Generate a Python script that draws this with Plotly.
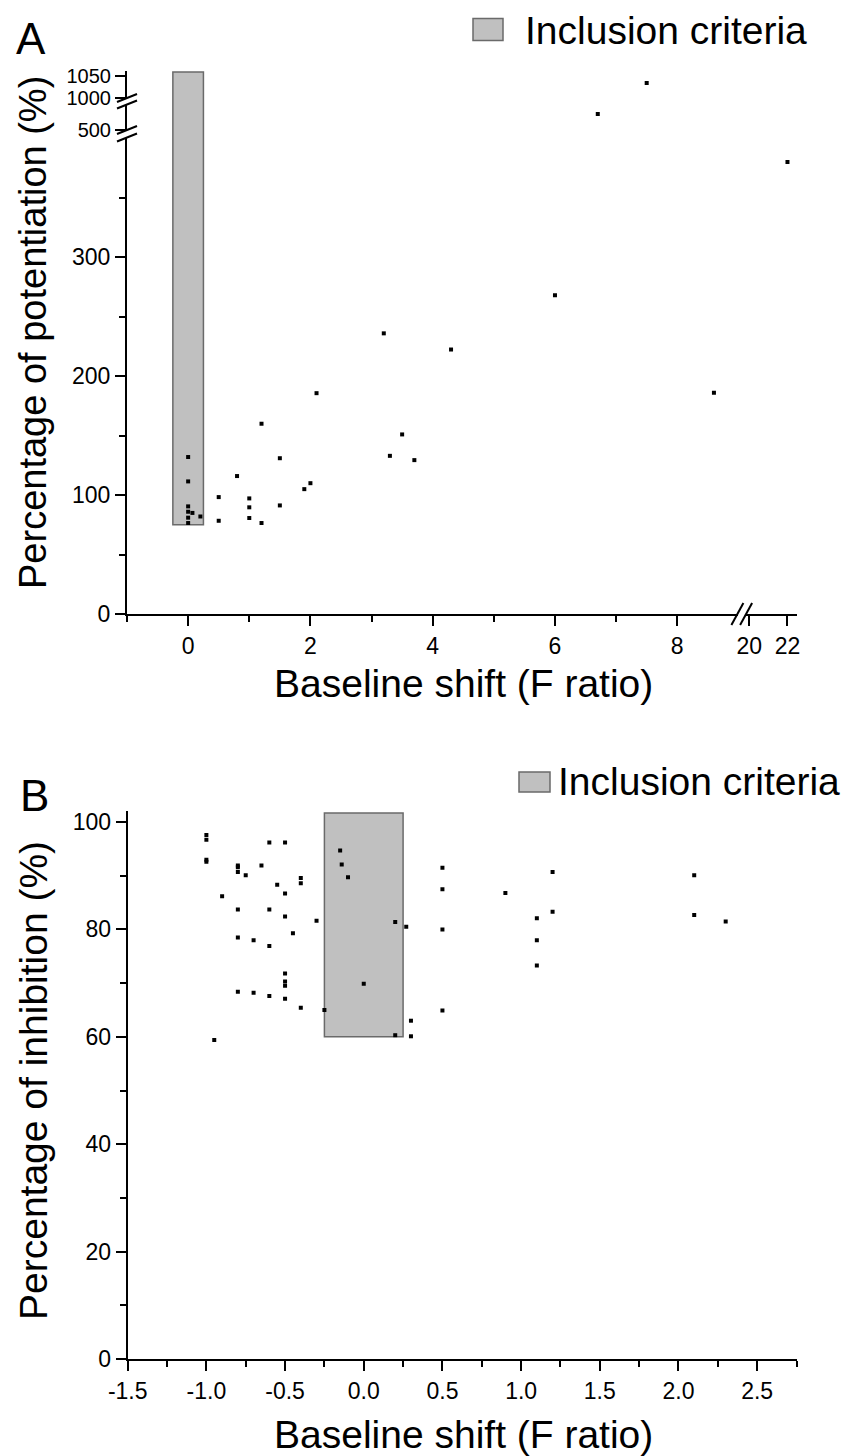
import plotly.graph_objects as go

# ---------------- data ----------------
# Panel A: baseline shift (F ratio) vs percentage of potentiation (%)
a_shift = [0, 0, 0, 0, 0.07, 0, 0, 0.2, 0.5, 0.5, 0.8, 1.0, 1.0, 1.0, 1.2, 1.2,
           1.5, 1.5, 1.9, 2.0, 2.1, 3.2, 3.3, 3.5, 3.7, 4.3, 6.0, 8.6,
           6.7, 7.5, 22.0]
a_potentiation = [132, 111.5, 90.5, 86, 85, 81, 76.5, 82, 98.3, 78.4, 116, 97.2, 89.7, 80.7, 160, 76.5,
                  131, 91.3, 105, 110, 185.7, 236, 133, 151, 129.4, 222.4, 268, 186,
                  750, 1034, 380]
a_inclusion_shift = [-0.25, 0.25]
a_inclusion_potentiation = [75, 1059]

# Panel B: baseline shift (F ratio) vs percentage of inhibition (%)
b_shift = [-1.0, -1.0, -1.0, -1.0, -0.95, -0.9,
           -0.8, -0.8, -0.8, -0.8, -0.8, -0.8, -0.75, -0.7, -0.7,
           -0.65, -0.6, -0.6, -0.6, -0.6, -0.55,
           -0.5, -0.5, -0.5, -0.5, -0.5, -0.5, -0.5,
           -0.45, -0.4, -0.4, -0.4, -0.3, -0.25,
           -0.15, -0.14, -0.1, 0.0, 0.2, 0.2, 0.27, 0.3, 0.3,
           0.5, 0.5, 0.5, 0.5, 0.9, 1.1, 1.1, 1.1, 1.2, 1.2,
           2.1, 2.1, 2.3]
b_inhibition = [97.6, 96.7, 93.0, 92.6, 59.4, 86.2,
                91.9, 91.6, 90.7, 83.7, 78.5, 68.4, 90.1, 78.0, 68.2,
                91.9, 96.2, 83.7, 76.9, 67.6, 88.3,
                96.2, 86.7, 82.4, 71.8, 70.3, 69.5, 67.1,
                79.3, 89.6, 88.6, 65.4, 81.6, 65.0,
                94.7, 92.1, 89.7, 69.9, 81.4, 60.3, 80.5, 63.0, 60.1,
                91.5, 87.5, 80.0, 64.9, 86.8, 82.1, 78.0, 73.3, 90.7, 83.3,
                90.1, 82.7, 81.5]
b_inclusion_shift = [-0.25, 0.25]
b_inclusion_inhibition = [60, 101.7]

# tick values
a_x_ticks_left = [0, 2, 4, 6, 8]
a_x_minor_left = [-1, 1, 3, 5, 7]
a_x_ticks_right = [20, 22]
a_y_ticks_low = [0, 100, 200, 300]
a_y_minor_low = [50, 150, 250, 350]
a_y_ticks_mid = [500]
a_y_ticks_top = [1000, 1050]
b_x_ticks = [-1.5, -1.0, -0.5, 0.0, 0.5, 1.0, 1.5, 2.0, 2.5]
b_x_minor = [-1.25, -0.75, -0.25, 0.25, 0.75, 1.25, 1.75, 2.25, 2.75]
b_y_ticks = [0, 20, 40, 60, 80, 100]
b_y_minor = [10, 30, 50, 70, 90]

# axis ranges of the broken axes in panel A
A_X_LEFT_RANGE = [-1, 9]
A_X_RIGHT_RANGE = [19.75, 22.5]
A_Y_LOW_RANGE = [0, 407]
A_Y_MID_RANGE = [500, 1000]
A_Y_TOP_RANGE = [1000, 1061]
B_X_RANGE = [-1.5, 2.75]
B_Y_RANGE = [0, 102]

# ---------------- geometry (pixels) ----------------
W, H = 848, 1456
FONT = "Liberation Sans, Arial, sans-serif"


def fx(px):
    return px / W


def fy(py):
    return 1 - py / H


A_LEFT, A_XBREAK_L, A_XBREAK_R, A_RIGHT = 127, 738.4, 744.6, 797
A_BOTTOM, A_YBREAK_LOW, A_YBREAK_HIGH, A_TOP = 614, 130, 98, 71
B_LEFT, B_RIGHT, B_BOTTOM, B_TOP = 127.7, 796.5, 1359, 811.3

fig = go.Figure()

MARKER = dict(symbol="square", size=4, color="black", line=dict(width=0))


def route_a(sx, p):
    xa = "x" if sx <= A_X_LEFT_RANGE[1] else "x2"
    if p <= A_Y_LOW_RANGE[1]:
        ya = "y"
    elif p <= A_Y_MID_RANGE[1]:
        ya = "y2"
    else:
        ya = "y3"
    return xa, ya


groups = {}
for sx, p in zip(a_shift, a_potentiation):
    key = route_a(sx, p)
    groups.setdefault(key, ([], []))
    groups[key][0].append(sx)
    groups[key][1].append(p)

for (xa, ya), (xs, ys) in groups.items():
    fig.add_trace(go.Scatter(x=xs, y=ys, mode="markers", marker=MARKER,
                             xaxis=xa, yaxis=ya, showlegend=False,
                             hoverinfo="x+y"))

fig.add_trace(go.Scatter(x=b_shift, y=b_inhibition, mode="markers", marker=MARKER,
                         xaxis="x3", yaxis="y4", showlegend=False, hoverinfo="x+y"))

# ---------------- axes ----------------
TICKFONT = dict(family=FONT, size=23, color="black")
SMALL_TICKFONT = dict(family=FONT, size=20, color="black")
base = dict(showline=True, linecolor="black", linewidth=2, ticks="outside",
            ticklen=10, tickwidth=1.5, tickcolor="black", showgrid=False,
            zeroline=False, fixedrange=True, mirror=False, automargin=False)


def minor(vals):
    return dict(tickmode="array", tickvals=vals, ticks="outside", ticklen=6,
                tickwidth=1.5, tickcolor="black", showgrid=False)


def labels(vals, fmt="{:g}"):
    return [fmt.format(v) for v in vals]


fig.update_layout(
    xaxis=dict(**base, tickfont=TICKFONT, domain=[fx(A_LEFT), fx(A_XBREAK_L)],
               range=A_X_LEFT_RANGE, anchor="y", tickmode="array",
               tickvals=a_x_ticks_left, ticktext=labels(a_x_ticks_left),
               minor=minor(a_x_minor_left)),
    xaxis2=dict(**base, tickfont=TICKFONT, domain=[fx(A_XBREAK_R), fx(A_RIGHT)],
                range=A_X_RIGHT_RANGE, anchor="y", tickmode="array",
                tickvals=a_x_ticks_right, ticktext=labels(a_x_ticks_right)),
    yaxis=dict(**base, tickfont=TICKFONT, domain=[fy(A_BOTTOM), fy(A_YBREAK_LOW)],
               range=A_Y_LOW_RANGE, anchor="x", tickmode="array",
               tickvals=a_y_ticks_low, ticktext=labels(a_y_ticks_low),
               minor=minor(a_y_minor_low)),
    yaxis2=dict(**base, tickfont=SMALL_TICKFONT,
                domain=[fy(A_YBREAK_LOW), fy(A_YBREAK_HIGH)], range=A_Y_MID_RANGE,
                anchor="x", tickmode="array", tickvals=a_y_ticks_mid,
                ticktext=labels(a_y_ticks_mid)),
    yaxis3=dict(**base, tickfont=SMALL_TICKFONT,
                domain=[fy(A_YBREAK_HIGH), fy(A_TOP)], range=A_Y_TOP_RANGE,
                anchor="x", tickmode="array", tickvals=a_y_ticks_top,
                ticktext=labels(a_y_ticks_top)),
    xaxis3=dict(**base, tickfont=TICKFONT, domain=[fx(B_LEFT), fx(B_RIGHT)],
                range=B_X_RANGE, anchor="y4", tickmode="array", tickvals=b_x_ticks,
                ticktext=labels(b_x_ticks, "{:.1f}"), minor=minor(b_x_minor)),
    yaxis4=dict(**base, tickfont=TICKFONT, domain=[fy(B_BOTTOM), fy(B_TOP)],
                range=B_Y_RANGE, anchor="x3", tickmode="array", tickvals=b_y_ticks,
                ticktext=labels(b_y_ticks), minor=minor(b_y_minor)),
)

# ---------------- inclusion boxes ----------------
BOX_FILL = "#c0c0c0"
BOX_LINE = dict(color="#6a6a6a", width=1.5)
for ya in ["y", "y2", "y3"]:
    fig.add_shape(type="rect", xref="x", yref=ya,
                  x0=a_inclusion_shift[0], x1=a_inclusion_shift[1],
                  y0=a_inclusion_potentiation[0], y1=a_inclusion_potentiation[1],
                  fillcolor=BOX_FILL, line=BOX_LINE, layer="below")
fig.add_shape(type="rect", xref="x3", yref="y4",
              x0=b_inclusion_shift[0], x1=b_inclusion_shift[1],
              y0=b_inclusion_inhibition[0], y1=b_inclusion_inhibition[1],
              fillcolor=BOX_FILL, line=BOX_LINE, layer="below")

# ---------------- axis break marks ----------------
def paper_line(x0, y0, x1, y1, width=2):
    fig.add_shape(type="line", xref="paper", yref="paper",
                  x0=fx(x0), y0=fy(y0), x1=fx(x1), y1=fy(y1),
                  line=dict(color="black", width=width), layer="above")


def paper_poly(points, color="white"):
    path = "M " + " L ".join(f"{fx(px)},{fy(py)}" for px, py in points) + " Z"
    fig.add_shape(type="path", xref="paper", yref="paper", path=path,
                  fillcolor=color, line=dict(width=0), layer="above")


def y_break(cy_top, cy_bottom, cx=A_LEFT, half_w=10, half_h=4):
    paper_poly([(cx - half_w, cy_top + half_h), (cx + half_w, cy_top - half_h),
                (cx + half_w, cy_bottom - half_h), (cx - half_w, cy_bottom + half_h)])
    for cy in (cy_top, cy_bottom):
        paper_line(cx - half_w, cy + half_h, cx + half_w, cy - half_h)


y_break(A_YBREAK_HIGH, A_YBREAK_HIGH + 6.5)
y_break(A_YBREAK_LOW, A_YBREAK_LOW + 7.5)

for cx in (A_XBREAK_L - 1, A_XBREAK_R + 1.5):
    paper_line(cx - 6, A_BOTTOM + 11, cx + 6, A_BOTTOM - 11)

# ---------------- legends ----------------
def legend(x0, y0, x1, y1, tx, ty, size):
    fig.add_shape(type="rect", xref="paper", yref="paper",
                  x0=fx(x0), y0=fy(y0), x1=fx(x1), y1=fy(y1),
                  fillcolor=BOX_FILL, line=BOX_LINE, layer="above")
    fig.add_annotation(text="Inclusion criteria", xref="paper", yref="paper",
                       x=fx(tx), y=fy(ty), xanchor="left", yanchor="middle",
                       showarrow=False, font=dict(family=FONT, size=size, color="black"))


legend(473, 18.5, 503, 40.5, 523, 30, 39)
legend(519, 772, 550, 792, 556, 781, 39)

# ---------------- texts ----------------
def text(s, x, y, size, angle=0):
    fig.add_annotation(text=s, xref="paper", yref="paper", x=fx(x), y=fy(y),
                       xanchor="center", yanchor="middle", showarrow=False,
                       textangle=angle, font=dict(family=FONT, size=size, color="black"))


text("A", 31, 38, 44)
text("B", 34, 796, 44)
text("Percentage of potentiation (%)", 33, 333, 38, -90)
text("Baseline shift (F ratio)", 463, 683, 39)
text("Percentage of inhibition (%)", 33, 1081, 39, -90)
text("Baseline shift (F ratio)", 463, 1434, 39)

fig.update_layout(width=W, height=H,
                  margin=dict(l=0, r=0, t=0, b=0, pad=0, autoexpand=False),
                  paper_bgcolor="white", plot_bgcolor="white", showlegend=False)

fig.write_html("out.html")
